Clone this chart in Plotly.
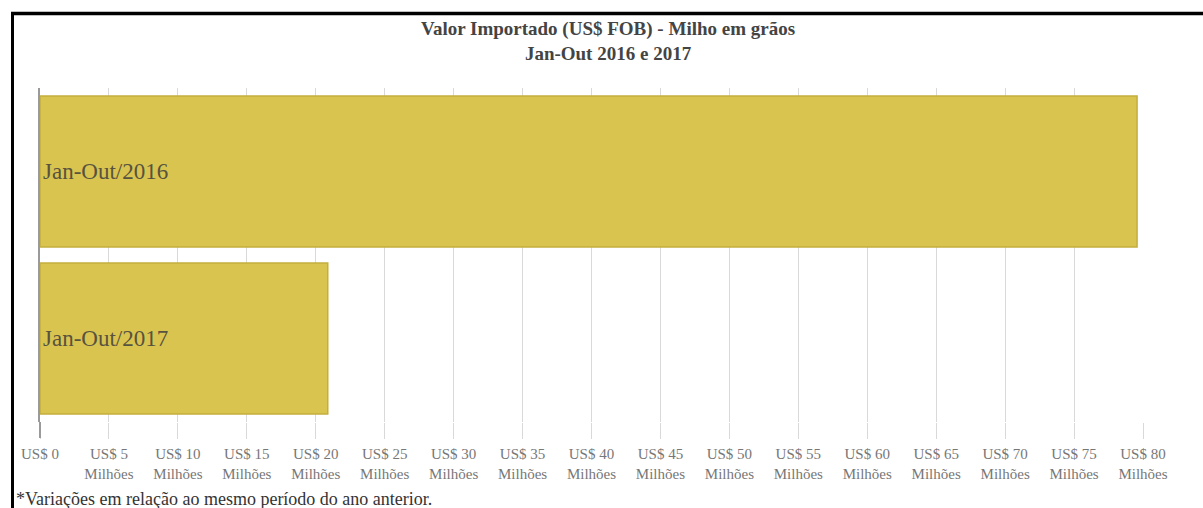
import plotly.graph_objects as go

# dados (US$ milhões)
periodos = ["Jan-Out/2016", "Jan-Out/2017"]
valores = [79.57, 20.87]
tick_vals = list(range(0, 85, 5))
tick_text = ["US$ 0"] + [f"US$ {v}<br>Milhões" for v in tick_vals[1:]]

W, H = 1203, 508
L, R, T, B = 40, 60, 88, 86
pw, ph = W - L - R, H - T - B


def px_x(p):
    return (p - L) / pw


def px_y(p):
    return (H - B - p) / ph


SERIF = "Liberation Serif, Times New Roman, serif"

fig = go.Figure(go.Bar(
    x=valores, y=periodos, orientation="h",
    text=periodos, textposition="inside", insidetextanchor="start",
    textfont=dict(family=SERIF, size=23, color="#57533f"),
    marker=dict(color="#dac450", line=dict(color="#c4ae3e", width=1.5)),
    hoverinfo="skip",
))

fig.update_layout(
    width=W, height=H,
    paper_bgcolor="white", plot_bgcolor="white",
    margin=dict(l=L, r=R, t=T, b=B),
    bargap=0.095,
    showlegend=False,
    title=dict(
        text="<b>Valor Importado (US$ FOB) - Milho em grãos<br>Jan-Out 2016 e 2017</b>",
        x=608 / W, xanchor="center", y=1 - 35 / H, yanchor="top",
        font=dict(family=SERIF, size=19, color="#444"),
    ),
    font=dict(family=SERIF),
)

fig.update_xaxes(
    range=[0, 80], tickvals=tick_vals, ticktext=tick_text,
    showgrid=True, gridcolor="#d9d9d9", gridwidth=1,
    ticks="outside", ticklen=16, tickcolor="#d9d9d9",
    ticklabelstandoff=2,
    tickfont=dict(family=SERIF, size=15, color="#777"),
    zeroline=False, showline=False, fixedrange=True,
)
fig.update_yaxes(
    autorange="reversed", showticklabels=False,
    showline=True, linecolor="#9a9a9a", linewidth=2,
    showgrid=False, fixedrange=True,
)

# traço do eixo zero abaixo da área do gráfico
fig.add_shape(type="line", xref="paper", yref="paper",
              x0=0, x1=0, y0=px_y(H - B), y1=px_y(H - B + 16),
              line=dict(color="#9a9a9a", width=2))

# rodapé
fig.add_annotation(
    text="*Variações em relação ao mesmo período do ano anterior.",
    xref="paper", yref="paper", x=px_x(14), y=px_y(499),
    xanchor="left", yanchor="middle", showarrow=False,
    font=dict(family=SERIF, size=18, color="#333"),
)

# moldura preta
fig.add_shape(type="line", xref="paper", yref="paper",
              x0=px_x(11), x1=px_x(W + 5), y0=px_y(13.5), y1=px_y(13.5),
              line=dict(color="black", width=3.5))
fig.add_shape(type="line", xref="paper", yref="paper",
              x0=px_x(12.5), x1=px_x(12.5), y0=px_y(12), y1=px_y(H + 5),
              line=dict(color="black", width=3))

fig.write_html("out.html", config={"displayModeBar": False},
               post_script="document.body.style.margin='0';")
